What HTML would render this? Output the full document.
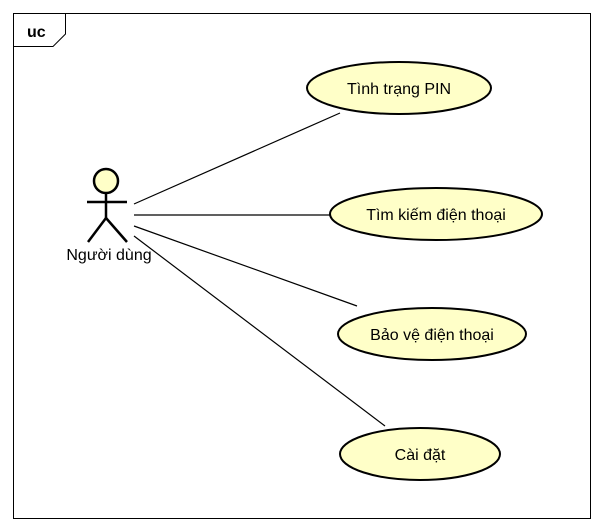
<!DOCTYPE html>
<html><head><meta charset="utf-8"><style>
html,body{margin:0;padding:0;background:#fff;width:604px;height:532px;overflow:hidden}
text{font-family:"Liberation Sans",sans-serif;font-size:16px;fill:#000}
</style></head><body>
<svg width="604" height="532" xmlns="http://www.w3.org/2000/svg">
<rect x="13.5" y="13.5" width="577" height="505" fill="#fff" stroke="#000"/>
<path d="M13.5 46.5 H53 L65.5 34 V13.5" fill="none" stroke="#000"/>
<text x="27" y="37" font-weight="bold">uc</text>
<g stroke="#000" stroke-width="1.2" fill="none">
<line x1="134" y1="204" x2="340" y2="113"/>
<line x1="134" y1="215" x2="330" y2="215"/>
<line x1="134" y1="226" x2="357" y2="306"/>
<line x1="134" y1="236" x2="385" y2="426"/>
</g>
<g fill="#ffffc8" stroke="#000" stroke-width="2">
<ellipse cx="399" cy="88" rx="92" ry="26"/>
<ellipse cx="436" cy="214" rx="106" ry="26"/>
<ellipse cx="432" cy="334" rx="94" ry="26"/>
<ellipse cx="420" cy="454" rx="80" ry="26"/>
</g>
<g text-anchor="middle">
<text x="399" y="94">Tình trạng PIN</text>
<text x="436" y="220">Tìm kiếm điện thoại</text>
<text x="432" y="340">Bảo vệ điện thoại</text>
<text x="420" y="460">Cài đặt</text>
</g>
<g stroke="#000" stroke-width="2.5" fill="none">
<circle cx="106" cy="181" r="12" fill="#ffffc8"/>
<line x1="106" y1="193" x2="106" y2="218"/>
<line x1="87" y1="202" x2="127" y2="202"/>
<line x1="106" y1="218" x2="88" y2="242"/>
<line x1="106" y1="218" x2="127" y2="242"/>
</g>
<text x="109" y="260" text-anchor="middle">Người dùng</text>
</svg>
</body></html>
